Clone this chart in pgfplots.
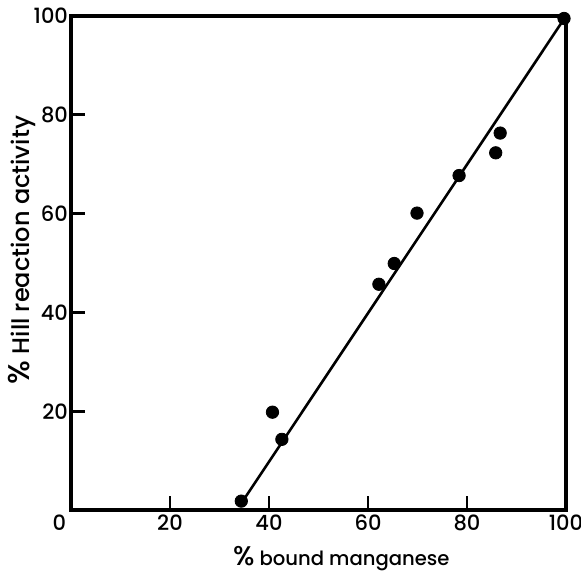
\documentclass[border=0pt]{standalone}
\usepackage{pgfplots}
\pgfplotsset{compat=1.18}
\usepackage{fontspec}
\setmainfont{Poppins}[UprightFont=* Medium]
\begin{document}
\begin{tikzpicture}
% fixed frame, axis lower-left corner sits at (0,0)
\useasboundingbox (-35.5pt,-33.5pt) rectangle (255pt,255pt);
\begin{axis}[
  scale only axis,
  width=247.5pt,
  height=247pt,
  xmin=0,xmax=100,
  ymin=0,ymax=100,
  xtick={0,20,40,60,80,100},
  ytick={20,40,60,80,100},
  xticklabels={\makebox[0pt][r]{0\kern2.5pt},20,40,60,80,100},
  xtick pos=left, ytick pos=left,
  tick align=inside,
  major tick length=7pt,
  every tick/.style={line width=1.4pt,black},
  axis line style={line width=1.6pt},
  /pgf/number format/assume math mode=true,
  tick label style={font=\fontsize{10.5}{13}\selectfont},
  xticklabel style={yshift=1pt},
  yticklabel style={xshift=2pt},
  xlabel={{\fontsize{13.5}{14}\selectfont\%} bound manganese},
  ylabel={{\fontsize{15}{15}\selectfont\%} Hill reaction activity},
  xlabel style={at={(axis description cs:0.546,-0.098)},anchor=center,font=\fontsize{9.8}{13}\selectfont},
  ylabel style={at={(axis description cs:-0.099,0.526)},anchor=center,font=\fontsize{12}{14}\selectfont},
  clip=false
]
\addplot[black,line width=1.3pt] coordinates {(34.5,1.5) (100,100)};
\addplot[only marks,mark=*,mark size=3.1pt,black] coordinates {
  (34.4,1.8) (40.7,19.8) (42.6,14.3) (62.2,45.7) (65.3,49.9)
  (69.9,60.1) (78.4,67.7) (85.8,72.3) (86.7,76.3) (99.6,99.5)
};
\end{axis}
\end{tikzpicture}
\end{document}
